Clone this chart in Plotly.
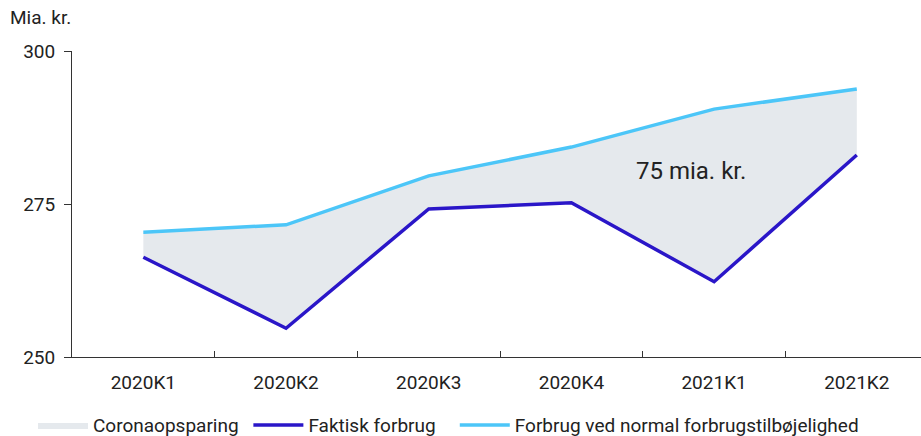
import plotly.graph_objects as go

quarters = ["2020K1", "2020K2", "2020K3", "2020K4", "2021K1", "2021K2"]
faktisk = [266.3, 254.7, 274.2, 275.2, 262.3, 283.0]
normal = [270.4, 271.6, 279.6, 284.3, 290.5, 293.8]

DARK = "#2A16C8"
LIGHT = "#4CC6F8"
FILL = "#E5E9ED"
FONT = "Roboto"
NB = "\u00a0"

fig = go.Figure()
fig.add_trace(go.Scatter(x=quarters, y=normal, mode="lines", line=dict(width=0),
                         showlegend=False, hoverinfo="skip"))
fig.add_trace(go.Scatter(x=quarters, y=faktisk, mode="lines", line=dict(width=0),
                         fill="tonexty", fillcolor=FILL, name="Coronaopsparing" + NB))
fig.add_trace(go.Scatter(x=quarters, y=faktisk, mode="lines",
                         line=dict(color=DARK, width=3.5), name="Faktisk forbrug" + NB * 3))
fig.add_trace(go.Scatter(x=quarters, y=normal, mode="lines",
                         line=dict(color=LIGHT, width=3.5),
                         name="Forbrug ved normal forbrugstilbøjelighed"))

fig.add_annotation(x=3.84, y=280.4, text="75 mia. kr.", showarrow=False,
                   font=dict(size=24, color="#222"))
fig.add_annotation(x=(8 - 72) / 849, y=1 + (51 - 18) / 306, xref="paper", yref="paper",
                   text="Mia. kr.", showarrow=False, xanchor="left", yanchor="middle",
                   font=dict(size=19, color="#222"))

fig.update_layout(
    width=921, height=436,
    margin=dict(l=72, r=0, t=51, b=79),
    paper_bgcolor="white", plot_bgcolor="white",
    font=dict(family=FONT, size=19, color="#222"),
    showlegend=True,
    legend=dict(orientation="h", x=33 / 921, xref="container", y=0.025, yref="container",
                yanchor="middle", xanchor="left", font=dict(size=19),
                traceorder="normal", itemwidth=50, tracegroupgap=0),
    xaxis=dict(range=[-0.5, 5.45], showgrid=False, showline=True, linecolor="#333",
               linewidth=1, ticks="inside", tickson="boundaries", ticklen=6,
               tickcolor="#333", zeroline=False, ticklabelstandoff=8),
    yaxis=dict(range=[250, 300], tickvals=[250, 275, 300], showgrid=False,
               showline=True, linecolor="#333", linewidth=1, ticks="outside",
               ticklen=7, tickcolor="#333", zeroline=False, ticklabelstandoff=5),
)

fig.write_html("out.html", config={"displayModeBar": False},
               post_script="document.body.style.margin='0';")
